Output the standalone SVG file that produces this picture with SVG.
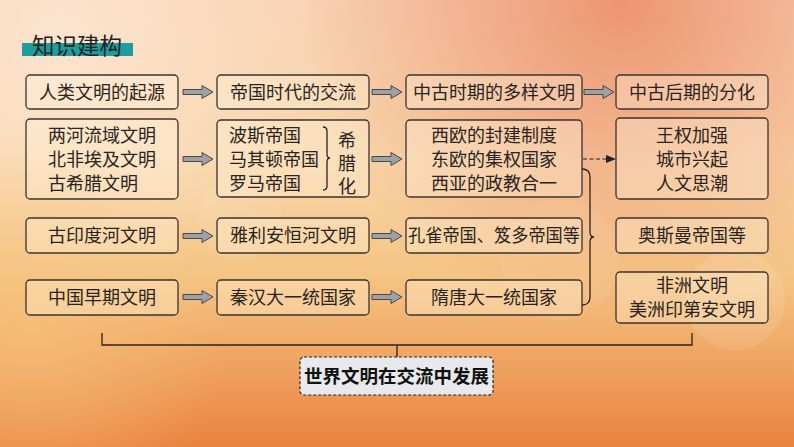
<svg xmlns="http://www.w3.org/2000/svg" xmlns:xlink="http://www.w3.org/1999/xlink" width="794" height="447" viewBox="0 0 794 447">
<defs>
<linearGradient id="bg" x1="0" y1="0" x2="0" y2="1">
<stop offset="0" stop-color="#f8d3b4"/>
<stop offset="0.35" stop-color="#f8d6aa"/>
<stop offset="0.62" stop-color="#f5c482"/>
<stop offset="1" stop-color="#ea8241"/>
</linearGradient>
<radialGradient id="tr" cx="620" cy="0" r="320" gradientUnits="userSpaceOnUse">
<stop offset="0" stop-color="#eb8a66" stop-opacity="0.85"/>
<stop offset="1" stop-color="#eb8a66" stop-opacity="0"/>
</radialGradient>
<radialGradient id="tl" cx="60" cy="40" r="260" gradientUnits="userSpaceOnUse">
<stop offset="0" stop-color="#fde8d6" stop-opacity="0.8"/>
<stop offset="1" stop-color="#fde8d6" stop-opacity="0"/>
</radialGradient>
<radialGradient id="bl" cx="30" cy="330" r="200" gradientUnits="userSpaceOnUse">
<stop offset="0" stop-color="#f6c27a" stop-opacity="0.7"/>
<stop offset="1" stop-color="#f6c27a" stop-opacity="0"/>
</radialGradient>
<path id="arr" d="M0,-2.5 H19 V-6.5 L30,0 L19,6.5 V2.5 H0 Z"/>
<marker id="ah" markerWidth="10" markerHeight="8" refX="9" refY="4" orient="auto" markerUnits="userSpaceOnUse">
<path d="M0,0 L10,4 L0,8 Z" fill="#222"/>
</marker>
<style>
.box{fill:#fff3de;fill-opacity:0.35;stroke:#3a3430;stroke-width:1.3}
.t{font-family:"Noto Sans CJK SC","Noto Sans CJK JP",sans-serif;font-size:18px;fill:#2a2420;text-anchor:middle}
.tl{font-family:"Noto Sans CJK SC","Noto Sans CJK JP",sans-serif;font-size:18px;fill:#2a2420;text-anchor:start}
.ar{fill:#9ea2a6;stroke:#3c3c3c;stroke-width:0.9}
.ln{fill:none;stroke:#2a2420;stroke-width:1.3}
</style>
</defs>
<rect width="794" height="447" fill="url(#bg)"/>
<rect width="794" height="447" fill="url(#tr)"/>
<rect width="794" height="447" fill="url(#tl)"/>
<rect width="794" height="447" fill="url(#bl)"/>
<circle cx="240" cy="218" r="42" fill="#fff" fill-opacity="0.08"/>
<circle cx="735" cy="300" r="50" fill="#fff" fill-opacity="0.1"/>
<circle cx="560" cy="260" r="60" fill="#fff" fill-opacity="0.06"/>

<g id="title">
<rect x="22" y="43" width="111" height="13" fill="#1f9c9c"/>
<text x="32" y="54" style="font-family:'Noto Sans CJK SC',sans-serif;font-size:22.5px;fill:#222">知识建构</text>
</g>

<g id="r1c1"><rect class="box" x="26" y="75" width="152" height="34" rx="4"/><text class="t" x="102" y="98.5">人类文明的起源</text></g>
<g id="r1c2"><rect class="box" x="217" y="75" width="152" height="34" rx="4"/><text class="t" x="293" y="98.5">帝国时代的交流</text></g>
<g id="r1c3"><rect class="box" x="406" y="75" width="176" height="34" rx="4"/><text class="t" x="494" y="98.5">中古时期的多样文明</text></g>
<g id="r1c4"><rect class="box" x="616" y="75" width="152" height="34" rx="4"/><text class="t" x="692" y="98.5">中古后期的分化</text></g>

<g id="r2c1"><rect class="box" x="26" y="119" width="152" height="80" rx="4"/>
<text class="tl" x="48" y="141.5">两河流域文明</text>
<text class="tl" x="48" y="165.5">北非埃及文明</text>
<text class="tl" x="48" y="190">古希腊文明</text></g>
<g id="r2c2"><rect class="box" x="217" y="120" width="152" height="77" rx="4"/>
<text class="tl" x="229" y="141.5">波斯帝国</text>
<text class="tl" x="229" y="165.5">马其顿帝国</text>
<text class="tl" x="229" y="189.5">罗马帝国</text>
<path class="ln" d="M323,127 q4,0 4,4 v23 q0,4 3,4 q-3,0 -3,4 v24 q0,4 -4,4"/>
<text x="347" y="131" style="font-family:'Noto Sans CJK SC',sans-serif;font-size:18px;fill:#2a2420;writing-mode:vertical-rl;letter-spacing:5px">希腊化</text></g>
<g id="r2c3"><rect class="box" x="406" y="120" width="176" height="77" rx="4"/>
<text class="t" x="494" y="141.5">西欧的封建制度</text>
<text class="t" x="494" y="166">东欧的集权国家</text>
<text class="t" x="494" y="189.5">西亚的政教合一</text></g>
<g id="r2c4"><rect class="box" x="616" y="118" width="152" height="81" rx="4"/>
<text class="t" x="692" y="141.5">王权加强</text>
<text class="t" x="692" y="165.5">城市兴起</text>
<text class="t" x="692" y="189.5">人文思潮</text></g>

<g id="r3c1"><rect class="box" x="26" y="218" width="152" height="35" rx="4"/><text class="t" x="102" y="242">古印度河文明</text></g>
<g id="r3c2"><rect class="box" x="217" y="218" width="152" height="35" rx="4"/><text class="t" x="293" y="242">雅利安恒河文明</text></g>
<g id="r3c3"><rect class="box" x="406" y="218" width="176" height="35" rx="4"/><text class="t" x="494" y="242" textLength="172" lengthAdjust="spacingAndGlyphs">孔雀帝国、笈多帝国等</text></g>
<g id="r3c4"><rect class="box" x="616" y="218" width="152" height="35" rx="4"/><text class="t" x="692" y="242">奥斯曼帝国等</text></g>

<g id="r4c1"><rect class="box" x="26" y="280" width="152" height="35" rx="4"/><text class="t" x="102" y="303.5">中国早期文明</text></g>
<g id="r4c2"><rect class="box" x="217" y="280" width="152" height="35" rx="4"/><text class="t" x="293" y="303.5">秦汉大一统国家</text></g>
<g id="r4c3"><rect class="box" x="406" y="280" width="176" height="35" rx="4"/><text class="t" x="494" y="303.5">隋唐大一统国家</text></g>
<g id="r4c4"><rect class="box" x="616" y="272" width="152" height="51" rx="4"/>
<text class="t" x="692" y="291.5">非洲文明</text>
<text class="t" x="692" y="316">美洲印第安文明</text></g>

<g id="summary">
<rect x="300" y="357" width="193" height="38" rx="4" fill="#e7e9eb" stroke="#2a2420" stroke-width="1.2" stroke-dasharray="3,2"/>
<text x="396.5" y="383" style="font-family:'Noto Sans CJK SC',sans-serif;font-size:18.5px;font-weight:bold;fill:#111;text-anchor:middle">世界文明在交流中发展</text>
</g>

<g id="connectors">
<use xlink:href="#arr" class="ar" transform="translate(183,92)"/>
<use xlink:href="#arr" class="ar" transform="translate(372,92)"/>
<use xlink:href="#arr" class="ar" transform="translate(584,92)"/>
<use xlink:href="#arr" class="ar" transform="translate(183,159)"/>
<use xlink:href="#arr" class="ar" transform="translate(372,159)"/>
<use xlink:href="#arr" class="ar" transform="translate(183,236)"/>
<use xlink:href="#arr" class="ar" transform="translate(372,236)"/>
<use xlink:href="#arr" class="ar" transform="translate(183,297)"/>
<use xlink:href="#arr" class="ar" transform="translate(372,297)"/>
<line x1="583" y1="159" x2="615" y2="159" stroke="#222" stroke-width="1" stroke-dasharray="4,2.5" marker-end="url(#ah)"/>
<path class="ln" d="M582,169 q8,0 8,8 v55 q0,5 4,5 q-4,0 -4,5 v55 q0,8 -8,8"/>
<path class="ln" d="M102,333 V345 H692 V333"/>
<path class="ln" d="M397,345 V357"/>
</g>
</svg>
